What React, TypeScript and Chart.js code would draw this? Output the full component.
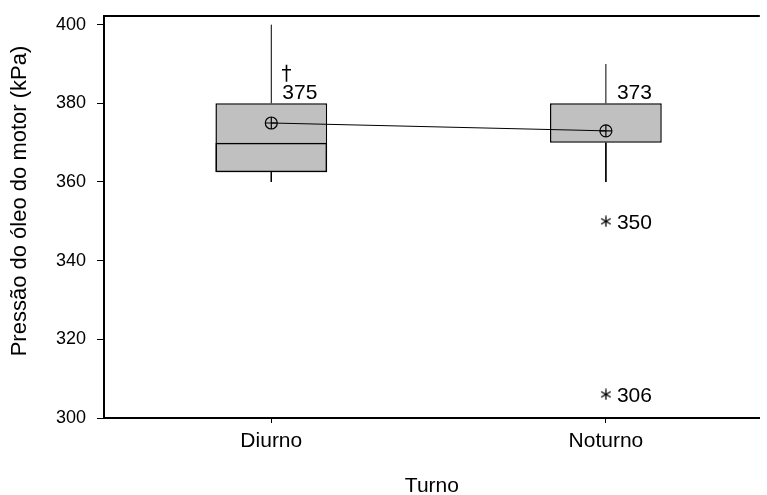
import React, { useEffect, useRef } from 'react';
import { Chart, registerables } from 'chart.js';

Chart.register(...registerables);

// Pressão do óleo do motor por turno
const turnos = ['Diurno', 'Noturno'];
const posicoes = [1, 2];
const quartil1 = [362.5, 370];
const quartil3 = [380, 380];
const medianas = [370, 370];
const bigodeInferior = [360, 360];
const bigodeSuperior = [400, 390];
const medias = [375, 373];
const outliersNoturno = [350, 306];
const yTicks = [300, 320, 340, 360, 380, 400];

const FONT = '"Liberation Sans", Arial, Helvetica, sans-serif';

function asterisco(size: number): HTMLCanvasElement {
  const c = document.createElement('canvas');
  c.width = size;
  c.height = size;
  const g = c.getContext('2d')!;
  g.strokeStyle = '#000';
  g.lineWidth = 1.3;
  const r = size / 2 - 0.5;
  const cx = size / 2;
  const cy = size / 2;
  for (const a of [90, 30, 150]) {
    const rad = (a * Math.PI) / 180;
    g.beginPath();
    g.moveTo(cx - r * Math.cos(rad), cy - r * Math.sin(rad));
    g.lineTo(cx + r * Math.cos(rad), cy + r * Math.sin(rad));
    g.stroke();
  }
  return c;
}

const anotacoes = {
  id: 'anotacoes',
  afterDraw(chart: any) {
    const { ctx, chartArea, scales } = chart;
    const x = scales.x;
    const y = scales.y;
    ctx.save();

    // linha superior da moldura
    ctx.strokeStyle = '#000';
    ctx.lineWidth = 2;
    ctx.beginPath();
    ctx.moveTo(chartArea.left - 1, chartArea.top);
    ctx.lineTo(chartArea.right, chartArea.top);
    ctx.stroke();

    ctx.fillStyle = '#000';
    ctx.textBaseline = 'alphabetic';

    // rótulos das médias
    medias.forEach((m, i) => {
      const px = x.getPixelForValue(posicoes[i]);
      const base = y.getPixelForValue(quartil3[i]) - 4.5;
      ctx.font = `21px ${FONT}`;
      ctx.textAlign = 'left';
      ctx.fillText(m.toFixed(0), px + 11, base);
      if (i === 0) {
        // marca em forma de cruz (†) acima do rótulo
        const cx = Math.round(px + 14.5) + 0.5;
        ctx.lineWidth = 1.6;
        ctx.beginPath();
        ctx.moveTo(cx, base - 34);
        ctx.lineTo(cx, base - 17);
        ctx.moveTo(cx - 4.5, base - 29);
        ctx.lineTo(cx + 4.5, base - 29);
        ctx.stroke();
      }
    });

    // rótulos dos valores atípicos
    ctx.font = `21px ${FONT}`;
    ctx.textAlign = 'left';
    const pxN = x.getPixelForValue(posicoes[1]);
    outliersNoturno.forEach((v) => {
      ctx.fillText(String(v), pxN + 11, y.getPixelForValue(v) + 7.5);
    });

    // títulos dos eixos
    ctx.font = `21px ${FONT}`;
    ctx.textAlign = 'center';
    ctx.fillText('Turno', (chartArea.left + chartArea.right) / 2, 492);

    ctx.translate(20, 201);
    ctx.rotate(-Math.PI / 2);
    ctx.textBaseline = 'middle';
    ctx.font = `22px ${FONT}`;
    ctx.fillText('Pressão do óleo do motor (kPa)', 0, 0);
    ctx.restore();
  },
};

export default function App() {
  const ref = useRef<HTMLCanvasElement | null>(null);

  useEffect(() => {
    document.body.style.margin = '0';
    const canvas = ref.current;
    if (!canvas) return;

    const bigodes: any[] = [];
    posicoes.forEach((p, i) => {
      bigodes.push({ x: p, y: quartil3[i] });
      bigodes.push({ x: p, y: bigodeSuperior[i] });
      bigodes.push({ x: p, y: null });
      bigodes.push({ x: p, y: quartil1[i] });
      bigodes.push({ x: p, y: bigodeInferior[i] });
      bigodes.push({ x: p, y: null });
    });

    const pontosMedia = posicoes.map((p, i) => ({ x: p, y: medias[i] }));

    const semMargens = (s: any) => {
      s.paddingTop = 0;
      s.paddingBottom = 0;
      s.paddingLeft = 0;
      s.paddingRight = 0;
    };

    const chart = new Chart(canvas, {
      type: 'bar',
      data: {
        datasets: [
          {
            type: 'bar',
            label: 'Caixa',
            data: posicoes.map((p, i) => ({ x: p, y: [quartil1[i], quartil3[i]] })) as any,
            backgroundColor: '#c0c0c0',
            borderColor: '#000',
            borderWidth: 1.5,
            borderSkipped: false,
            grouped: false,
            barPercentage: 0.334,
            categoryPercentage: 1,
            order: 5,
          } as any,
          {
            type: 'bar',
            label: 'Mediana',
            data: posicoes.map((p, i) => ({ x: p, y: [quartil1[i], medianas[i]] })) as any,
            backgroundColor: 'rgba(0,0,0,0)',
            borderColor: '#000',
            borderWidth: 1.5,
            borderSkipped: false,
            grouped: false,
            barPercentage: 0.334,
            categoryPercentage: 1,
            order: 4,
          } as any,
          {
            type: 'line',
            label: 'Bigodes',
            data: bigodes,
            borderColor: '#000',
            borderWidth: 1,
            pointRadius: 0,
            spanGaps: false,
            order: 3,
          } as any,
          {
            type: 'line',
            label: 'Ligação das médias',
            data: pontosMedia,
            borderColor: '#000',
            borderWidth: 1,
            pointRadius: 0,
            order: 2,
          } as any,
          {
            type: 'scatter',
            label: 'Média',
            data: pontosMedia,
            pointStyle: 'circle',
            pointRadius: 6,
            borderWidth: 1.2,
            borderColor: '#000',
            backgroundColor: 'rgba(0,0,0,0)',
            order: 1,
          } as any,
          {
            type: 'scatter',
            label: 'Média (cruz)',
            data: pontosMedia,
            pointStyle: 'cross',
            pointRadius: 6,
            borderWidth: 1.2,
            borderColor: '#000',
            order: 1,
          } as any,
          {
            type: 'scatter',
            label: 'Atípicos',
            data: outliersNoturno.map((v) => ({ x: posicoes[1], y: v })),
            pointStyle: asterisco(12),
            pointRadius: 6,
            order: 0,
          } as any,
        ],
      },
      options: {
        responsive: false,
        maintainAspectRatio: false,
        animation: false,
        devicePixelRatio: 1,
        layout: { padding: { top: 16, right: 0, bottom: 0, left: 0 } },
        plugins: {
          legend: { display: false },
          tooltip: { enabled: false },
        },
        scales: {
          x: {
            type: 'linear',
            offset: false,
            min: 0.5,
            max: 2.46,
            afterBuildTicks: (s: any) => {
              s.ticks = posicoes.map((v) => ({ value: v }));
            },
            afterFit: (s: any) => {
              s.height = 77;
              semMargens(s);
            },
            ticks: {
              callback: (v: any) => {
                const i = posicoes.indexOf(Number(v));
                return i >= 0 ? turnos[i] : '';
              },
              font: { family: FONT, size: 21 },
              color: '#000',
              padding: 6,
              maxRotation: 0,
              autoSkip: false,
            },
            grid: {
              display: true,
              offset: false,
              drawOnChartArea: false,
              drawTicks: true,
              tickLength: 5,
              color: '#000',
              lineWidth: 1,
            },
            border: { display: true, color: '#000', width: 2 },
          },
          y: {
            type: 'linear',
            min: 300,
            max: 402.2,
            afterBuildTicks: (s: any) => {
              s.ticks = yTicks.map((v) => ({ value: v }));
            },
            afterFit: (s: any) => {
              s.width = 104;
              semMargens(s);
            },
            ticks: {
              font: { family: FONT, size: 18 },
              color: '#000',
              padding: 11,
            },
            grid: {
              display: true,
              drawOnChartArea: false,
              drawTicks: true,
              tickLength: 7,
              color: '#000',
              lineWidth: 1,
            },
            border: { display: true, color: '#000', width: 2 },
          },
        },
      } as any,
      plugins: [anotacoes],
    });

    return () => chart.destroy();
  }, []);

  return (
    <div style={{ width: 767, height: 495, background: '#fff' }}>
      <canvas ref={ref} width={767} height={495} style={{ display: 'block' }} />
    </div>
  );
}
